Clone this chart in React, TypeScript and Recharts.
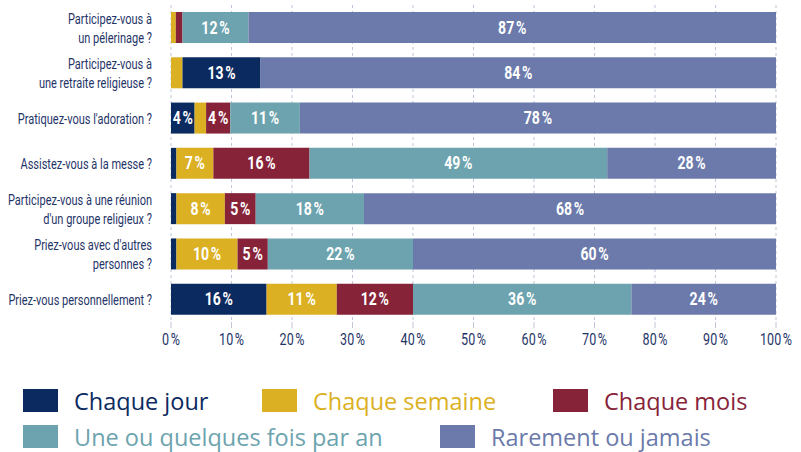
import React from "react";
import { BarChart, Bar, XAxis, YAxis, CartesianGrid, LabelList, Cell } from "recharts";

const questions = [
  "Participez-vous à\nun pélerinage ?",
  "Participez-vous à\nune retraite religieuse ?",
  "Pratiquez-vous l'adoration ?",
  "Assistez-vous à la messe ?",
  "Participez-vous à une réunion\nd'un groupe religieux ?",
  "Priez-vous avec d'autres\npersonnes ?",
  "Priez-vous personnellement ?",
];

// segment widths (% of respondents)
const jour = [0, 0, 3.9, 0.9, 0.9, 0.9, 15.8];
const semaine = [0.8, 1.9, 1.9, 6.1, 8.0, 10.1, 11.6];
const mois = [1.1, 12.9, 4.0, 15.9, 5.1, 5.0, 12.6];
const an = [10.9, 0, 11.5, 49.2, 17.9, 24.0, 36.1];
const rare = [87.2, 85.2, 78.7, 27.9, 68.1, 60.0, 23.9];

// printed labels
const jourLbl = ["", "", "4", "", "", "", "16"];
const semaineLbl = ["", "", "", "7", "8", "10", "11"];
const moisLbl = ["", "13", "4", "16", "5", "5", "12"];
const anLbl = ["12", "", "11", "49", "18", "22", "36"];
const rareLbl = ["87", "84", "78", "28", "68", "60", "24"];

const xTicks = [0, 10, 20, 30, 40, 50, 60, 70, 80, 90, 100];

const NAVY = "#0b2a5f";
const YELLOW = "#dbb023";
const RED = "#872339";
const TEAL = "#6ca3ae";
const BLUE = "#6b7aab";
const TEXT = "#1f3568";

const pct = (s: string) => (s ? s + "\u202F%" : "");

const data = questions.map((q, i) => ({
  q,
  jour: jour[i],
  semaine: semaine[i],
  mois: mois[i],
  an: an[i],
  rare: rare[i],
  jourL: pct(jourLbl[i]),
  semaineL: pct(semaineLbl[i]),
  moisL: pct(moisLbl[i]),
  anL: pct(anLbl[i]),
  rareL: pct(rareLbl[i]),
}));

const legendRows = [
  { name: "Chaque jour", color: NAVY, x: 23, y: 389 },
  { name: "Chaque semaine", color: YELLOW, x: 262, y: 389 },
  { name: "Chaque mois", color: RED, x: 553, y: 389 },
  { name: "Une ou quelques fois par an", color: TEAL, x: 23, y: 425 },
  { name: "Rarement ou jamais", color: BLUE, x: 440, y: 425 },
];

const font = "Roboto, sans-serif";

// condensed look: no narrow font installed, so squeeze horizontally
function QuestionTick({ x, y, payload }: any) {
  const lines = String(payload.value).split("\n");
  const lh = 19;
  const y0 = -((lines.length - 1) * lh) / 2;
  return (
    <text
      transform={`translate(${x},${y}) scale(0.71,1)`}
      textAnchor="end"
      fill={TEXT}
      fontSize={15.5}
      fontFamily={font}
    >
      {lines.map((l, i) => (
        <tspan key={i} x={0} y={y0 + i * lh} dy="0.35em">
          {l}
        </tspan>
      ))}
    </text>
  );
}

function PctTick({ x, y, payload }: any) {
  return (
    <text
      transform={`translate(${x},${y}) scale(0.76,1)`}
      textAnchor="middle"
      fill={TEXT}
      fontSize={16.5}
      fontFamily={font}
      dy="0.71em"
    >
      {payload.value + "\u202F%"}
    </text>
  );
}

function SegLabel({ x, y, width, height, value }: any) {
  if (!value) return null;
  return (
    <text
      transform={`translate(${x + width / 2},${y + height / 2}) scale(0.78,1)`}
      textAnchor="middle"
      dominantBaseline="central"
      fill="#fff"
      fontSize={18}
      fontWeight={700}
      fontFamily={font}
    >
      {value}
    </text>
  );
}

export default function App() {
  return (
    <div style={{ position: "absolute", left: 0, top: 0, width: 801, height: 452, background: "#fff" }}>
      <BarChart
        width={801}
        height={352}
        data={data}
        layout="vertical"
        barSize={31}
        margin={{ top: 5, right: 25, left: 0, bottom: 0 }}
      >
        <CartesianGrid horizontal={false} strokeDasharray="3 3" stroke="#bfc6d9" />
        <XAxis
          type="number"
          domain={[0, 100]}
          ticks={xTicks}
          axisLine={false}
          tickLine={{ stroke: "#bfc6d9" }}
          tickSize={6}
          tickMargin={5}
          height={30}
          interval={0}
          tick={<PctTick />}
        />
        <YAxis
          type="category"
          dataKey="q"
          width={171}
          axisLine={false}
          tickLine={false}
          tickMargin={13}
          interval={0}
          tick={<QuestionTick />}
        />
        <Bar dataKey="jour" stackId="a" fill={NAVY} isAnimationActive={false}>
          <LabelList dataKey="jourL" content={<SegLabel />} />
        </Bar>
        <Bar dataKey="semaine" stackId="a" fill={YELLOW} isAnimationActive={false}>
          <LabelList dataKey="semaineL" content={<SegLabel />} />
        </Bar>
        <Bar dataKey="mois" stackId="a" fill={RED} isAnimationActive={false}>
          {data.map((_, i) => (
            <Cell key={i} fill={i === 1 ? NAVY : RED} />
          ))}
          <LabelList dataKey="moisL" content={<SegLabel />} />
        </Bar>
        <Bar dataKey="an" stackId="a" fill={TEAL} isAnimationActive={false}>
          <LabelList dataKey="anL" content={<SegLabel />} />
        </Bar>
        <Bar dataKey="rare" stackId="a" fill={BLUE} isAnimationActive={false}>
          <LabelList dataKey="rareL" content={<SegLabel />} />
        </Bar>
      </BarChart>
      {legendRows.map((r) => (
        <div key={r.name} style={{ position: "absolute", left: r.x, top: r.y, display: "flex", alignItems: "center", height: 23 }}>
          <div style={{ width: 35, height: 23, background: r.color }} />
          <span style={{ marginLeft: 16, color: r.color, fontSize: 23.5, fontFamily: "'Open Sans', sans-serif", whiteSpace: "nowrap" }}>
            {r.name}
          </span>
        </div>
      ))}
    </div>
  );
}
